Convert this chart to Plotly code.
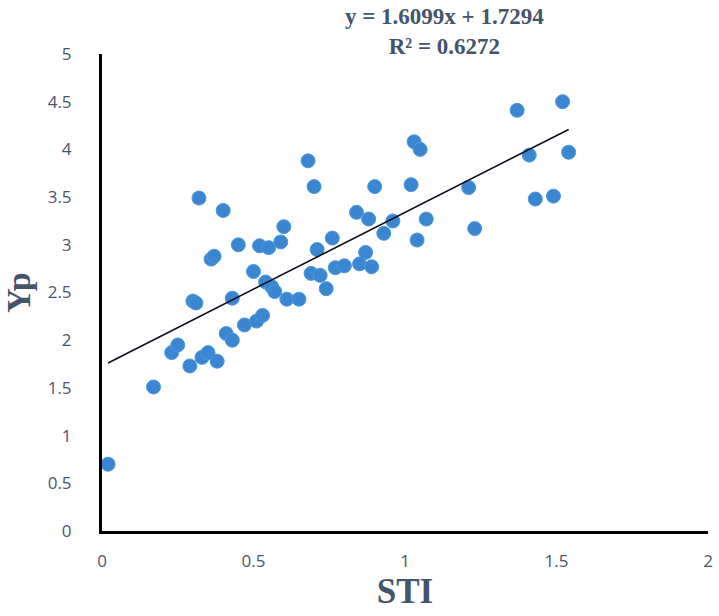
import plotly.graph_objects as go

sti = [0.02, 0.17, 0.23, 0.25, 0.29, 0.30, 0.31, 0.32, 0.33, 0.35,
       0.36, 0.37, 0.38, 0.40, 0.41, 0.43, 0.43, 0.45, 0.47, 0.50,
       0.51, 0.52, 0.53, 0.54, 0.55, 0.56, 0.57, 0.59, 0.60, 0.61,
       0.65, 0.68, 0.69, 0.70, 0.71, 0.72, 0.74, 0.76, 0.77, 0.80,
       0.84, 0.85, 0.87, 0.88, 0.89, 0.90, 0.93, 0.96, 1.02, 1.03,
       1.04, 1.05, 1.07, 1.21, 1.23, 1.37, 1.41, 1.43, 1.49, 1.52,
       1.54]
yp = [0.70, 1.51, 1.87, 1.95, 1.73, 2.41, 2.39, 3.49, 1.82, 1.87,
      2.85, 2.88, 1.78, 3.36, 2.07, 2.44, 2.00, 3.00, 2.16, 2.72,
      2.20, 2.99, 2.26, 2.61, 2.97, 2.56, 2.51, 3.03, 3.19, 2.43,
      2.43, 3.88, 2.70, 3.61, 2.95, 2.68, 2.54, 3.07, 2.76, 2.78,
      3.34, 2.80, 2.92, 3.27, 2.77, 3.61, 3.12, 3.25, 3.63, 4.08,
      3.05, 4.00, 3.27, 3.60, 3.17, 4.41, 3.94, 3.48, 3.51, 4.50,
      3.97]

slope = 1.6099
intercept = 1.7294
r2 = 0.6272

x_ticks = [0, 0.5, 1, 1.5, 2]
x_tick_labels = ["0", "0.5", "1", "1.5", "2"]
y_ticks = [0, 0.5, 1, 1.5, 2, 2.5, 3, 3.5, 4, 4.5, 5]
y_tick_labels = ["0", "0.5", "1", "1.5", "2", "2.5", "3", "3.5", "4", "4.5", "5"]

x_min, x_max = min(sti), max(sti)
trend_x = [x_min, x_max]
trend_y = [slope * v + intercept for v in trend_x]

fig = go.Figure()
fig.add_trace(go.Scatter(
    x=sti, y=yp, mode="markers",
    marker=dict(size=14, color="#3A86D1", line=dict(color="#4C97DE", width=1)),
    showlegend=False, cliponaxis=False,
))
fig.add_trace(go.Scatter(
    x=trend_x, y=trend_y, mode="lines",
    line=dict(color="#0d0d1a", width=1.6),
    showlegend=False,
))

text_color = "#44546A"
fig.add_annotation(
    text=f"<b>y = {slope}x + {intercept}</b><br><b>R² = {r2}</b>",
    xref="paper", yref="paper", x=0.566, y=1.0, yshift=23,
    xanchor="center", yanchor="middle", showarrow=False, align="center",
    font=dict(family="Liberation Serif", size=23, color=text_color),
)

fig.update_layout(
    width=719, height=616,
    margin=dict(l=102, r=6, t=54, b=85),
    plot_bgcolor="white", paper_bgcolor="white",
    xaxis=dict(
        range=[0, 2], tickvals=x_ticks, ticktext=x_tick_labels,
        showgrid=False, zeroline=False, showline=True, linecolor="black", linewidth=3,
        ticks="", ticklabelstandoff=13,
        tickfont=dict(family="Open Sans", size=17, color="#4a5568"),
        title=dict(text="<b>STI</b>", standoff=4,
                   font=dict(family="Liberation Serif", size=35, color=text_color)),
    ),
    yaxis=dict(
        range=[0, 5], tickvals=y_ticks, ticktext=y_tick_labels,
        showgrid=False, zeroline=False, showline=True, linecolor="black", linewidth=3,
        ticks="", ticklabelstandoff=24,
        tickfont=dict(family="Open Sans", size=17, color="#4a5568"),
        title=dict(text="<b>Yp</b>", standoff=8,
                   font=dict(family="Liberation Serif", size=34, color=text_color)),
    ),
)

fig.write_html("out.html")
